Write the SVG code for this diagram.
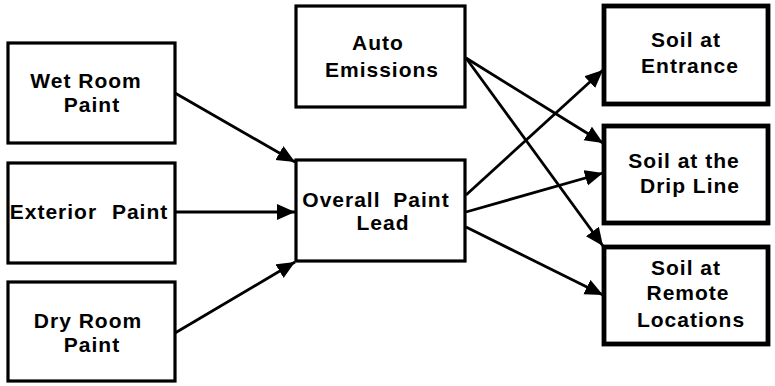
<svg xmlns="http://www.w3.org/2000/svg" width="775" height="386" viewBox="0 0 775 386">
  <style>
    .box { fill: #fff; stroke: #000; stroke-width: 3.2; }
    .box.heavy { stroke-width: 4.8; }
    .lbl { font-family: "Liberation Sans", Arial, sans-serif; font-weight: bold; font-size: 21px; letter-spacing: 1px; text-anchor: middle; fill: #000; }
    .edge { fill: none; stroke: #000; stroke-width: 2.8; marker-end: url(#head); }
  </style>
  <defs>
    <marker id="head" markerUnits="userSpaceOnUse" markerWidth="20" markerHeight="18" refX="18" refY="8" orient="auto">
      <path d="M0,0 L18,8 L0,16 Z" fill="#000"/>
    </marker>
  </defs>
  <rect width="775" height="386" fill="#fff"/>

  <g id="wet-room-paint">
    <rect class="box" x="8" y="43" width="167" height="100"/>
    <text class="lbl" x="86" y="88">Wet Room</text>
    <text class="lbl" x="92" y="112">Paint</text>
  </g>
  <g id="exterior-paint">
    <rect class="box" x="8" y="163" width="167" height="100"/>
    <text class="lbl" x="89" y="219" word-spacing="8">Exterior Paint</text>
  </g>
  <g id="dry-room-paint">
    <rect class="box" x="8" y="282" width="167" height="99"/>
    <text class="lbl" x="88" y="328">Dry Room</text>
    <text class="lbl" x="92" y="352">Paint</text>
  </g>
  <g id="auto-emissions">
    <rect class="box" x="296" y="6" width="169" height="101"/>
    <text class="lbl" x="378" y="50">Auto</text>
    <text class="lbl" x="382" y="77">Emissions</text>
  </g>
  <g id="overall-paint-lead">
    <rect class="box" x="296" y="160" width="169" height="101"/>
    <text class="lbl" x="376" y="207" word-spacing="6">Overall Paint</text>
    <text class="lbl" x="383" y="230">Lead</text>
  </g>
  <g id="soil-entrance">
    <rect class="box heavy" x="604" y="6" width="164" height="98"/>
    <text class="lbl" x="686" y="47">Soil at</text>
    <text class="lbl" x="690" y="73">Entrance</text>
  </g>
  <g id="soil-drip-line">
    <rect class="box heavy" x="604" y="126" width="164" height="97"/>
    <text class="lbl" x="684" y="168">Soil at the</text>
    <text class="lbl" x="690" y="193">Drip Line</text>
  </g>
  <g id="soil-remote">
    <rect class="box heavy" x="604" y="247" width="164" height="97"/>
    <text class="lbl" x="686" y="275">Soil at</text>
    <text class="lbl" x="688" y="300">Remote</text>
    <text class="lbl" x="691" y="327">Locations</text>
  </g>

  <g id="connectors">
    <line class="edge" x1="175" y1="93" x2="295" y2="162"/>
    <line class="edge" x1="175" y1="212" x2="295" y2="212"/>
    <line class="edge" x1="175" y1="333" x2="295" y2="262"/>
    <line class="edge" x1="466" y1="58" x2="603" y2="143"/>
    <line class="edge" x1="466" y1="58" x2="603" y2="246"/>
    <line class="edge" x1="466" y1="195" x2="603" y2="70"/>
    <line class="edge" x1="466" y1="212" x2="603" y2="173"/>
    <line class="edge" x1="466" y1="227" x2="603" y2="295"/>
  </g>
</svg>
